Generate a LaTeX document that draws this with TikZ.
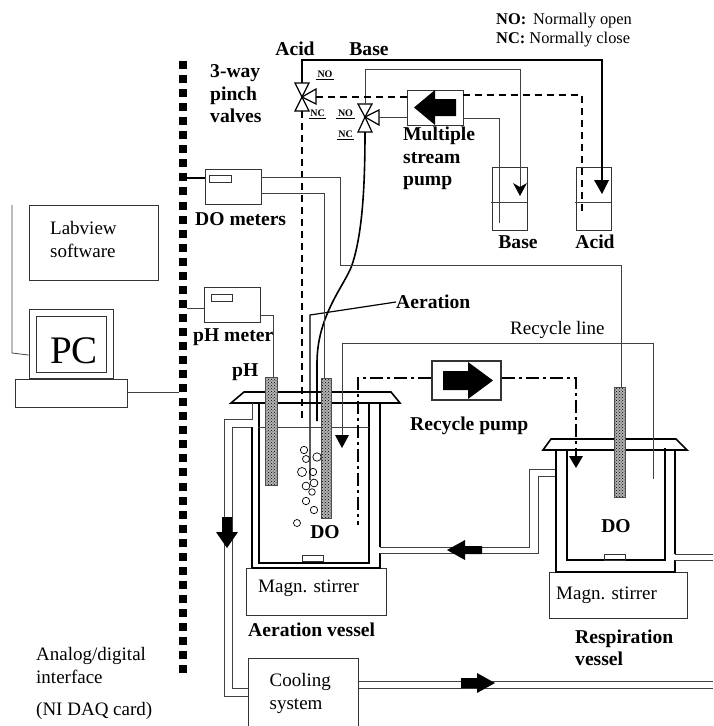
\documentclass[tikz,border=0pt]{standalone}
\usepackage{fontspec}
\setmainfont{Liberation Serif}
\usetikzlibrary{patterns}

\tikzset{
  thinline/.style={line width=0.8pt, black!75},
  midline/.style={line width=1.2pt},
  heavyline/.style={line width=1.6pt},
  acidline/.style={line width=1.5pt, dash pattern=on 7pt off 5pt},
  recycleline/.style={line width=1.4pt, dash pattern=on 13pt off 4pt on 3pt off 4pt},
  box/.style={draw, black!80, line width=0.9pt, rectangle, inner sep=0pt},
  probe/.style={draw, black!70, line width=0.5pt, rectangle, inner sep=0pt,
    preaction={fill=black!30}, pattern=crosshatch dots},
  solid arrow/.style={fill=black, draw=none},
  plain/.style={font=\fontsize{19}{23}\selectfont, anchor=west, inner sep=0pt, align=left},
  bold/.style={font=\fontsize{19.6}{22.4}\selectfont\bfseries, anchor=west, inner sep=0pt, align=left},
  tiny tag/.style={font=\fontsize{10}{10}\selectfont\bfseries, inner sep=0pt},
  legend/.style={font=\fontsize{16.4}{18}\selectfont, anchor=west, inner sep=0pt}
}

\begin{document}
\begin{tikzpicture}[x=1pt, y=-1pt]
\useasboundingbox (0,0) rectangle (713,726);

% Interface strip
\foreach \row in {0,...,43} {
  \fill (179,{61+14.05*\row}) rectangle (187,{69+14.05*\row});
}
\coordinate (strip1) at (183,178);
\coordinate (strip2) at (187,308);
\coordinate (strip3) at (179,392);

% PC side
\node[box, minimum width=129pt, minimum height=75pt] (labview) at (93.5,242.5) {};
\node[box, minimum width=84pt, minimum height=69pt] (monitor) at (71,343.5) {};
\node[box, minimum width=70pt, minimum height=56pt] (screen) at (71,344) {};
\node[box, minimum width=112pt, minimum height=28pt] (pcbase) at (71,393) {};
\node[plain] at (50,239) {Labview\\software};
\node[font=\fontsize{39}{39}\selectfont, inner sep=0pt] at (74,351) {PC};
\coordinate (cable) at (12,205);
\coordinate (cablebend) at (12,353);
\draw[thinline] (cable) -- (cablebend) -- (monitor.west |- 0,355);
\draw[thinline] (pcbase.east |- strip3) -- (strip3);

% Meters
\node[box, minimum width=56pt, minimum height=35pt] (dometers) at (233,186.5) {};
\node[box, minimum width=22pt, minimum height=7pt] at (220,178.5) {};
\node[box, minimum width=56pt, minimum height=35pt] (phmeter) at (232,304.5) {};
\node[box, minimum width=21pt, minimum height=7pt] at (221.5,297.5) {};
\node[bold] at (195,219) {DO meters};
\node[bold] at (193,337) {pH meter};
\node[bold] at (232,372) {pH};
\draw[midline] (strip1) -- (dometers.west |- strip1);
\draw[thinline] (strip2) -- (phmeter.west |- strip2);

% Valves
\coordinate (acidvalve) at (302,97);
\coordinate (basevalve) at (365,117);
\coordinate (acidup) at (302,83);
\coordinate (aciddown) at (302,111);
\coordinate (acidside) at (316,97);
\coordinate (baseup) at (365,104);
\coordinate (basedown) at (365,132);
\coordinate (baseside) at (379,117);
\draw[midline, fill=white] (acidvalve) -- (295,83) -- (309,83) -- cycle;
\draw[midline, fill=white] (acidvalve) -- (295,111) -- (309,111) -- cycle;
\draw[midline, fill=white] (acidvalve) -- (316,89) -- (316,104) -- cycle;
\draw[midline, fill=white] (basevalve) -- (358,104) -- (372,104) -- cycle;
\draw[midline, fill=white] (basevalve) -- (358,132) -- (372,132) -- cycle;
\draw[midline, fill=white] (basevalve) -- (379,110) -- (379,125) -- cycle;
\node[tiny tag] at (325,75) {\underline{\,NO\,}};
\node[tiny tag] at (317.5,114) {\underline{\,NC\,}};
\node[tiny tag] at (345.5,114) {\underline{\,NO\,}};
\node[tiny tag] at (345.5,135) {\underline{\,NC\,}};
\node[bold, anchor=center] at (295,49) {Acid};
\node[bold, anchor=center] at (369,49) {Base};
\node[bold] at (210,94) {3-way\\pinch\\valves};

% Multiple stream pump
\node[box, minimum width=56pt, minimum height=35pt] (feedpump) at (435,107.5) {};
\fill[solid arrow] (414,107.5) -- (435,90) -- (435,99) -- (456,99) -- (456,116) -- (435,116) -- (435,125) -- cycle;
\node[bold] at (403,158.5) {Multiple\\stream\\pump};

% Reservoirs
\node[box, minimum width=35pt, minimum height=63pt] (basetank) at (509.5,198.5) {};
\node[box, minimum width=35pt, minimum height=63pt] (acidtank) at (593.5,198.5) {};
\draw[thinline] (491,202) -- (527,202);
\draw[thinline] (575,202) -- (611,202);
\node[bold, anchor=center] at (518,242) {Base};
\node[bold, anchor=center] at (595,242) {Acid};
\node[legend] at (496,21) {\textbf{NO:}\, Normally open};
\node[legend] at (496,40) {\textbf{NC:} Normally close};

% Acid and base lines
\coordinate (acidtop) at (302,60);
\coordinate (acidcorner) at (602,60);
\coordinate (acidtip) at (602,181);
\draw[heavyline] (acidup) -- (acidtop) -- (acidcorner) -- (acidtip);
\fill[solid arrow] (602,194) -- (594,180) -- (609,180) -- cycle;
\coordinate (basetop) at (365,69);
\coordinate (basecorner) at (520,69);
\coordinate (basetip) at (520,194);
\draw[thinline] (baseup) -- (basetop) -- (basecorner) -- (basetip);
\fill[solid arrow] (520,196) -- (513,183) -- (520,187) -- (527,183) -- cycle;
\draw[thinline] (baseside) -- (feedpump.west |- baseside);
\coordinate (basefeed) at (499,118);
\coordinate (basefeedend) at (499,223);
\draw[thinline] (feedpump.east |- basefeed) -- (basefeed) -- (basefeedend);
\coordinate (acidfeed) at (582,95);
\coordinate (acidfeedend) at (582,213);
\draw[acidline] (acidside) -- (feedpump.west |- acidside);
\draw[acidline] (feedpump.east |- acidfeed) -- (acidfeed) -- (acidfeedend);
\coordinate (aciddrop) at (302,420);
\draw[acidline] (aciddown) -- (aciddrop);
\coordinate (basedrop) at (317,421);
\draw[heavyline] (basedown) .. controls (365,190) and (362,235) .. (352,265)
  .. controls (345,285) and (317,315) .. (317,363) -- (basedrop);

% Aeration
\node[bold] (aeration) at (396,302) {Aeration};
\coordinate (airbend) at (310,315);
\coordinate (airend) at (310,480);
\draw[midline] (aeration.west) -- (airbend) -- (airend);

% Aeration vessel
\draw[heavyline] (231,403) -- (244,392) -- (391,392) -- (400,403) -- cycle;
\draw[heavyline] (259,403) -- (259,563) -- (369,563) -- (369,403);
\draw[thinline] (258,427) -- (369,427);
\draw[box] (302,555) rectangle (323,561);
\node[bold, anchor=center] at (325,532) {DO};
\node[box, minimum width=140pt, minimum height=47pt] (stirrerA) at (316,591.5) {};
\node[plain] at (258,588) {Magn. stirrer};
\node[bold] at (248,630) {Aeration vessel};
\foreach \bx/\by/\br in {304/450/3.7, 306/459/3.5, 317/457/4.2, 302/472/4.5, 313/472/3.7,
    314/483/3.9, 306/486/3.9, 312/492/3.3, 306/501/3.7, 314/510/3.7, 297/523/3.5} {
  \draw[line width=0.7pt] (\bx,\by) circle (\br);
}

% Respiration vessel
\draw[heavyline] (543,450) -- (551,439) -- (676,439) -- (687,450) -- cycle;
\draw[heavyline] (567,450) -- (567,560) -- (665,560) -- (665,448);
\draw[box] (604,554) rectangle (625,560);
\node[bold, anchor=center] at (616,526) {DO};
\node[box, minimum width=138pt, minimum height=46pt] (stirrerB) at (618,595) {};
\node[plain] at (556,595) {Magn. stirrer};
\node[bold] at (575,648) {Respiration\\vessel};

% Jackets and water lines
\node[box, minimum width=110pt, minimum height=80pt, anchor=north west] (cooling) at (248,658) {};
\node[plain] at (269.5,693) {Cooling\\system};
\coordinate (jacketA1) at (252,403);
\coordinate (jacketA2) at (252,419);
\coordinate (jacketA3) at (224,419);
\coordinate (jacketA4) at (224,696);
\coordinate (jacketA5) at (252,427);
\coordinate (jacketA6) at (232,427);
\coordinate (jacketA7) at (232,688);
\coordinate (jacketA8) at (252,568);
\draw[thinline] (jacketA1) -- (jacketA2) -- (jacketA3) -- (jacketA4) -- (cooling.west |- jacketA4);
\draw[thinline] (jacketA5) -- (jacketA6) -- (jacketA7) -- (cooling.west |- jacketA7);
\draw[midline] (jacketA5) -- (jacketA8);
\draw[heavyline] (jacketA8) -- (380,568) -- (380,553);
\draw[thinline] (380,553) -- (538,553) -- (538,476) -- (556,476);
\draw[heavyline] (380,403) -- (380,547);
\draw[thinline] (380,547) -- (529,547) -- (529,469) -- (556,469);
\draw[heavyline] (556,450) -- (556,572) -- (675,572) -- (675,560);
\draw[thinline] (675,560) -- (713,560);
\draw[heavyline] (675,450) -- (675,554);
\draw[thinline] (675,554) -- (713,554);
\coordinate (outleta) at (713,681);
\coordinate (outletb) at (713,688);
\draw[thinline] (cooling.east |- outleta) -- (outleta);
\draw[thinline] (cooling.east |- outletb) -- (outletb);
\fill[solid arrow] (222,517) -- (232,517) -- (232,532) -- (238,532) -- (227,548) -- (216,532) -- (222,532) -- cycle;
\fill[solid arrow] (447,550) -- (465,540) -- (465,546) -- (482,546) -- (482,554) -- (465,554) -- (465,560) -- cycle;
\fill[solid arrow] (461,678) -- (477,678) -- (477,673) -- (495,683) -- (477,693) -- (477,688) -- (461,688) -- cycle;

% Probes
\node[probe, minimum width=12pt, minimum height=108pt] (phprobe) at (271,431) {};
\node[probe, minimum width=10pt, minimum height=140pt] (doprobe) at (326,448) {};
\node[probe, minimum width=11pt, minimum height=110pt] (resprobe) at (619.5,442) {};

% Meter lines to the probes
\coordinate (dobend1) at (340,177);
\coordinate (dobend2) at (324,193);
\coordinate (dobend3) at (340,265);
\coordinate (dobend4) at (621,265);
\coordinate (phbend) at (273.5,315);
\draw[thinline] (dometers.east |- dobend1) -- (dobend1) -- (dobend3) -- (dobend4) -- (dobend4 |- resprobe.north);
\draw[thinline] (dometers.east |- dobend2) -- (dobend2) -- (dobend2 |- doprobe.north);
\draw[thinline] (phmeter.east |- phbend) -- (phbend) -- (phbend |- phprobe.north);

% Recycle loop
\node[box, line width=1.3pt, minimum width=69pt, minimum height=39pt] (recyclepump) at (466.5,380.5) {};
\fill[solid arrow] (493,380.5) -- (468,362) -- (468,371) -- (443,371) -- (443,390) -- (468,390) -- (468,399) -- cycle;
\node[bold] at (410,426) {Recycle pump};
\node[plain] at (510,330) {Recycle line};
\coordinate (recyclein) at (358,378);
\coordinate (recycleend) at (358,525);
\coordinate (recycleout) at (576,378);
\coordinate (recycletip) at (576,458);
\draw[recycleline] (recyclepump.west |- recyclein) -- (recyclein) -- (recycleend);
\draw[recycleline] (recyclepump.east |- recycleout) -- (recycleout) -- (recycletip);
\fill[solid arrow] (576,468) -- (569,456) -- (583,456) -- cycle;
\coordinate (linestart) at (342,435);
\coordinate (linebend) at (342,343);
\coordinate (linecorner) at (653,343);
\coordinate (lineend) at (653,479);
\draw[thinline] (linestart) -- (linebend) -- (linecorner) -- (lineend);
\fill[solid arrow] (342,448) -- (335,435) -- (349,435) -- cycle;

% Bottom left text
\node[plain] at (36,665.5) {Analog/digital\\interface};
\node[plain] at (36,711) {(NI DAQ card)};

\end{tikzpicture}
\end{document}
